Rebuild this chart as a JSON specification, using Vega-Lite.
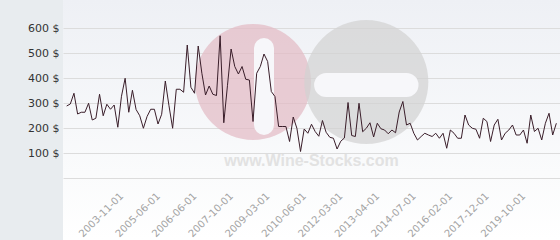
{
  "$schema": "https://vega.github.io/schema/vega-lite/v6.json",
  "width": 497,
  "height": 240,
  "autosize": {"type": "none"},
  "padding": {"left": 63, "top": 0, "right": 0, "bottom": 0},
  "background": "#e8ecef",
  "config": {
    "view": {
      "stroke": null,
      "fill": {"gradient": "linear", "x1": 0, "y1": 0, "x2": 0, "y2": 1, "stops": [{"offset": 0, "color": "#eef0f5"}, {"offset": 0.72, "color": "#fafbfc"}, {"offset": 1, "color": "#ffffff"}]}
    }
  },
  "datasets": {
    "prices": [
      {"date": "2002-01-01", "price": 289}, {"date": "2002-03-01", "price": 297}, {"date": "2002-04-01", "price": 340}, {"date": "2002-06-01", "price": 257},
      {"date": "2002-07-01", "price": 264}, {"date": "2002-09-01", "price": 264}, {"date": "2002-10-01", "price": 300}, {"date": "2002-12-01", "price": 233},
      {"date": "2003-01-01", "price": 240}, {"date": "2003-03-01", "price": 336}, {"date": "2003-04-01", "price": 250}, {"date": "2003-06-01", "price": 296},
      {"date": "2003-07-01", "price": 276}, {"date": "2003-08-01", "price": 293}, {"date": "2003-10-01", "price": 204}, {"date": "2003-11-01", "price": 328},
      {"date": "2004-01-01", "price": 400}, {"date": "2004-03-01", "price": 264}, {"date": "2004-05-01", "price": 352}, {"date": "2004-07-01", "price": 275},
      {"date": "2004-09-01", "price": 250}, {"date": "2004-11-01", "price": 200}, {"date": "2005-01-01", "price": 247}, {"date": "2005-03-01", "price": 276},
      {"date": "2005-04-01", "price": 276}, {"date": "2005-06-01", "price": 217}, {"date": "2005-07-01", "price": 256}, {"date": "2005-08-01", "price": 389},
      {"date": "2005-09-01", "price": 290}, {"date": "2005-10-01", "price": 200}, {"date": "2005-11-01", "price": 356}, {"date": "2005-12-01", "price": 356},
      {"date": "2006-01-01", "price": 344}, {"date": "2006-02-01", "price": 533}, {"date": "2006-04-01", "price": 364}, {"date": "2006-06-01", "price": 340},
      {"date": "2006-07-01", "price": 529}, {"date": "2006-09-01", "price": 420}, {"date": "2006-10-01", "price": 333}, {"date": "2006-12-01", "price": 369},
      {"date": "2007-01-01", "price": 336}, {"date": "2007-03-01", "price": 331}, {"date": "2007-04-01", "price": 570}, {"date": "2007-06-01", "price": 222},
      {"date": "2007-08-01", "price": 370}, {"date": "2007-10-01", "price": 517}, {"date": "2007-11-01", "price": 447}, {"date": "2008-01-01", "price": 417},
      {"date": "2008-03-01", "price": 447}, {"date": "2008-04-01", "price": 396}, {"date": "2008-06-01", "price": 393}, {"date": "2008-08-01", "price": 227},
      {"date": "2008-09-01", "price": 420}, {"date": "2008-11-01", "price": 447}, {"date": "2009-01-01", "price": 497}, {"date": "2009-03-01", "price": 467},
      {"date": "2009-04-01", "price": 347}, {"date": "2009-06-01", "price": 327}, {"date": "2009-07-01", "price": 207}, {"date": "2009-09-01", "price": 207},
      {"date": "2009-10-01", "price": 207}, {"date": "2009-12-01", "price": 147}, {"date": "2010-01-01", "price": 245}, {"date": "2010-03-01", "price": 200},
      {"date": "2010-04-01", "price": 107}, {"date": "2010-06-01", "price": 197}, {"date": "2010-08-01", "price": 180}, {"date": "2010-10-01", "price": 216},
      {"date": "2010-12-01", "price": 187}, {"date": "2011-02-01", "price": 168}, {"date": "2011-04-01", "price": 231}, {"date": "2011-06-01", "price": 184},
      {"date": "2011-08-01", "price": 164}, {"date": "2011-10-01", "price": 160}, {"date": "2012-01-01", "price": 117}, {"date": "2012-03-01", "price": 148},
      {"date": "2012-04-01", "price": 161}, {"date": "2012-05-01", "price": 303}, {"date": "2012-06-01", "price": 171}, {"date": "2012-08-01", "price": 167},
      {"date": "2012-09-01", "price": 300}, {"date": "2012-10-01", "price": 186}, {"date": "2012-12-01", "price": 200}, {"date": "2013-01-01", "price": 222},
      {"date": "2013-02-01", "price": 165}, {"date": "2013-04-01", "price": 220}, {"date": "2013-05-01", "price": 198}, {"date": "2013-07-01", "price": 193},
      {"date": "2013-08-01", "price": 178}, {"date": "2013-10-01", "price": 193}, {"date": "2013-11-01", "price": 182}, {"date": "2014-01-01", "price": 265},
      {"date": "2014-02-01", "price": 307}, {"date": "2014-04-01", "price": 213}, {"date": "2014-05-01", "price": 220}, {"date": "2014-07-01", "price": 180},
      {"date": "2014-09-01", "price": 153}, {"date": "2014-11-01", "price": 167}, {"date": "2015-01-01", "price": 180}, {"date": "2015-03-01", "price": 173},
      {"date": "2015-05-01", "price": 167}, {"date": "2015-07-01", "price": 180}, {"date": "2015-08-01", "price": 160}, {"date": "2015-10-01", "price": 180},
      {"date": "2015-12-01", "price": 120}, {"date": "2016-02-01", "price": 193}, {"date": "2016-04-01", "price": 180}, {"date": "2016-06-01", "price": 160},
      {"date": "2016-08-01", "price": 160}, {"date": "2016-11-01", "price": 253}, {"date": "2017-01-01", "price": 213}, {"date": "2017-03-01", "price": 200},
      {"date": "2017-05-01", "price": 196}, {"date": "2017-07-01", "price": 160}, {"date": "2017-10-01", "price": 240}, {"date": "2017-12-01", "price": 227},
      {"date": "2018-02-01", "price": 147}, {"date": "2018-04-01", "price": 213}, {"date": "2018-06-01", "price": 236}, {"date": "2018-08-01", "price": 153},
      {"date": "2018-11-01", "price": 180}, {"date": "2019-01-01", "price": 193}, {"date": "2019-03-01", "price": 213}, {"date": "2019-05-01", "price": 173},
      {"date": "2019-07-01", "price": 173}, {"date": "2019-10-01", "price": 193}, {"date": "2019-12-01", "price": 140}, {"date": "2020-02-01", "price": 253},
      {"date": "2020-04-01", "price": 187}, {"date": "2020-06-01", "price": 200}, {"date": "2020-08-01", "price": 153}, {"date": "2020-10-01", "price": 220},
      {"date": "2020-12-01", "price": 260}, {"date": "2021-02-01", "price": 173}, {"date": "2021-04-01", "price": 220}
    ],
    "logo": [
      {"part": "pink", "date": "2008-08-01", "price": 385},
      {"part": "grey", "date": "2012-12-01", "price": 385},
      {"part": "vbar", "date": "2009-01-01", "price": 521, "price2": 213},
      {"part": "hbar", "date": "2011-06-01", "date2": "2014-04-01", "price": 373},
      {"part": "text", "date": "2010-10-01", "price": 69, "label": "www.Wine-Stocks.com"}
    ]
  },
  "encoding": {
    "x": {
      "field": "date", "type": "ordinal", "sort": "ascending",
      "scale": {"type": "point", "padding": 1.5},
      "axis": {
        "values": ["2003-11-01", "2005-06-01", "2006-06-01", "2007-10-01", "2009-03-01", "2010-06-01", "2012-03-01", "2013-04-01", "2014-07-01", "2016-02-01", "2017-12-01", "2019-10-01"],
        "labelAngle": -45, "labelAlign": "right", "labelBaseline": "middle",
        "labelColor": "#a3a3a3", "labelFont": "DejaVu Sans", "labelFontSize": 10,
        "labelPadding": 16, "ticks": false, "domain": false, "grid": false,
        "offset": -62, "title": null, "labelOverlap": false
      }
    },
    "y": {
      "field": "price", "type": "quantitative",
      "scale": {"domain": [-247, 713], "nice": false, "zero": false},
      "axis": {
        "values": [0, 100, 200, 300, 400, 500, 600],
        "labelExpr": "datum.value == 0 ? '' : datum.value + ' $'",
        "labelColor": "#333333", "labelFont": "DejaVu Sans", "labelFontSize": 11,
        "labelPadding": 4, "ticks": false, "domain": false,
        "grid": true, "gridColor": "#dcdcdc", "gridWidth": 1,
        "title": null
      }
    }
  },
  "layer": [
    {
      "data": {"name": "logo"},
      "transform": [{"filter": "datum.part == 'pink'"}],
      "mark": {"type": "point", "shape": "circle", "filled": true, "size": 13456, "color": "#e3b9c3", "opacity": 0.7}
    },
    {
      "data": {"name": "logo"},
      "transform": [{"filter": "datum.part == 'grey'"}],
      "mark": {"type": "point", "shape": "circle", "filled": true, "size": 15376, "color": "#d2d2d2", "opacity": 0.7}
    },
    {
      "data": {"name": "logo"},
      "transform": [{"filter": "datum.part == 'vbar'"}],
      "mark": {"type": "rule", "color": "#f7f7fa", "strokeWidth": 20, "strokeCap": "round"},
      "encoding": {"y2": {"field": "price2"}}
    },
    {
      "data": {"name": "logo"},
      "transform": [{"filter": "datum.part == 'hbar'"}],
      "mark": {"type": "rule", "color": "#f7f7fa", "strokeWidth": 24, "strokeCap": "round"},
      "encoding": {"x2": {"field": "date2"}}
    },
    {
      "data": {"name": "logo"},
      "transform": [{"filter": "datum.part == 'text'"}],
      "mark": {"type": "text", "font": "Liberation Sans", "fontWeight": "bold", "fontSize": 16, "color": "#e2e2e2", "align": "center", "baseline": "middle"},
      "encoding": {"text": {"field": "label"}}
    },
    {
      "data": {"name": "prices"},
      "mark": {"type": "line", "color": "#3a1e2a", "strokeWidth": 1}
    }
  ]
}
